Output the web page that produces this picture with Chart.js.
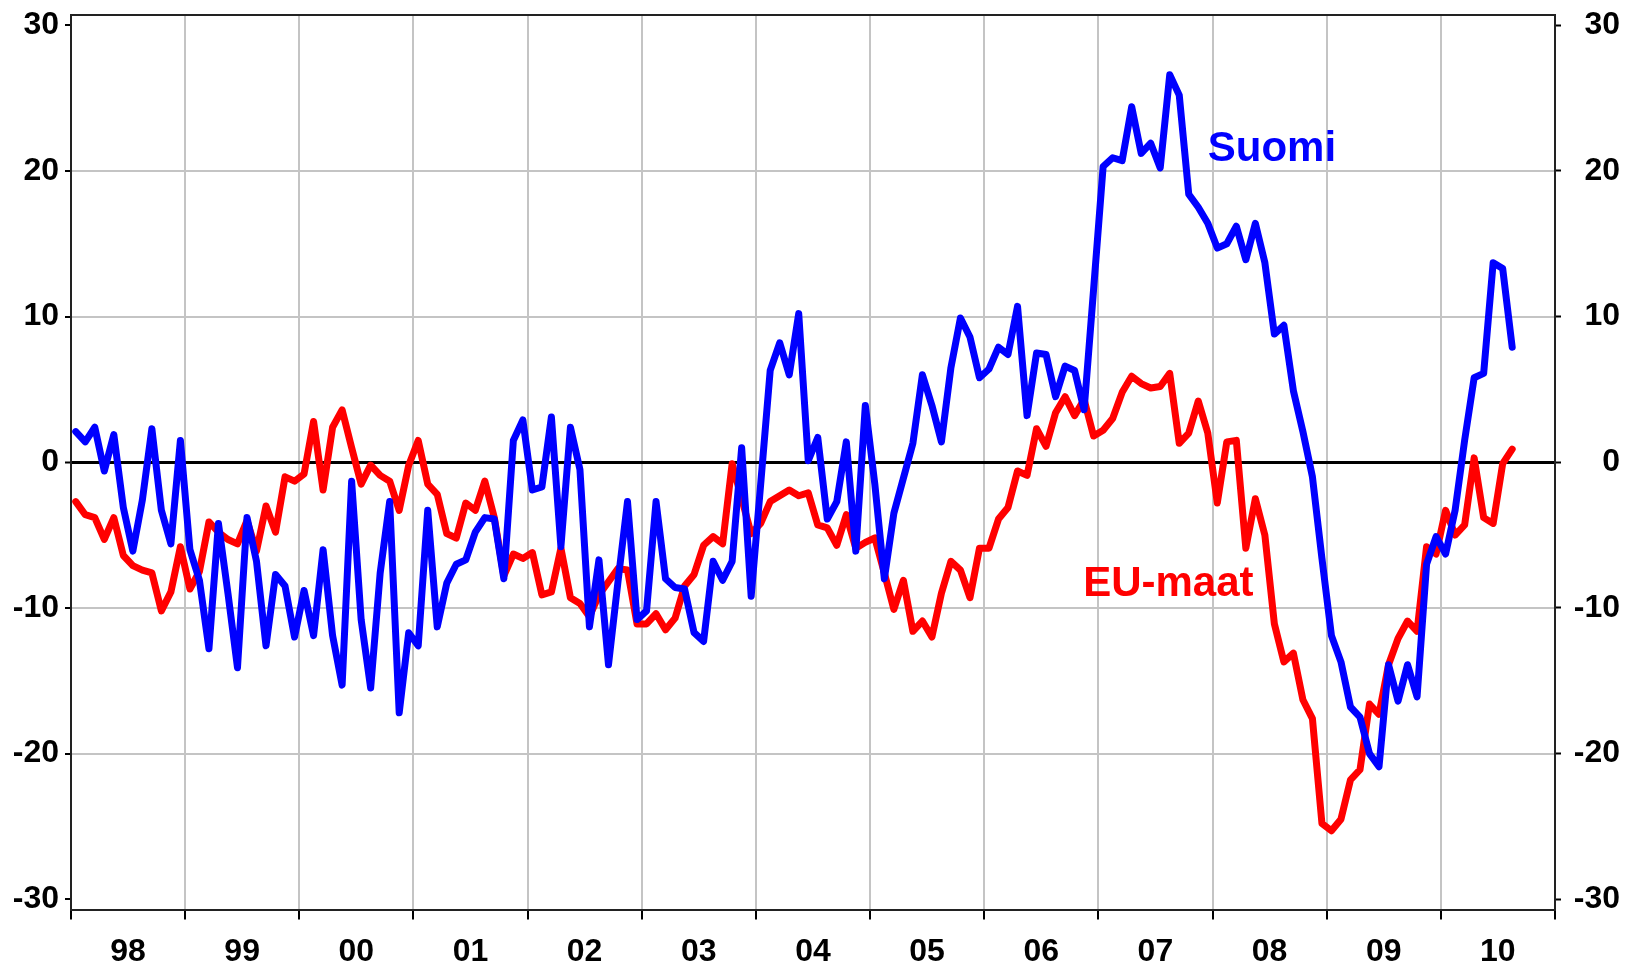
<!DOCTYPE html>
<html>
<head>
<meta charset="utf-8">
<title>Suomi / EU-maat</title>
<script src="https://cdn.jsdelivr.net/npm/chart.js@4.4.0/dist/chart.umd.min.js"></script>
<style>
    html, body { margin: 0; padding: 0; background: #fff; }
    #wrap { width: 1638px; height: 965px; position: relative; }
</style>
</head>
<body>
<div id="wrap"><canvas id="myChart"></canvas></div>
<script>
    // kuukausidata tammikuu 1998 - elokuu 2010
    var yearLabels = ['98', '99', '00', '01', '02', '03', '04', '05', '06', '07', '08', '09', '10'];
    var yTicks = [-30, -20, -10, 0, 10, 20, 30];

    var suomi = [
        2.1, 1.4, 2.4, -0.6, 1.9, -3.1, -6.1, -2.6, 2.3, -3.3, -5.6, 1.5,
        -6.0, -8.1, -12.8, -4.2, -9.0, -14.1, -3.8, -6.8, -12.6, -7.7, -8.5, -12.0,
        -8.8, -11.9, -6.0, -11.9, -15.3, -1.3, -10.8, -15.5, -7.6, -2.7, -17.2, -11.7,
        -12.6, -3.3, -11.3, -8.3, -7.0, -6.7, -4.8, -3.8, -3.9, -8.0, 1.5, 2.9,
        -1.9, -1.7, 3.1, -5.8, 2.4, -0.5, -11.3, -6.7, -13.9, -8.2, -2.7, -10.8,
        -10.2, -2.7, -8.0, -8.6, -8.7, -11.7, -12.3, -6.8, -8.1, -6.8, 1.0, -9.2,
        -1.5, 6.3, 8.2, 6.0, 10.2, 0.1, 1.7, -3.9, -2.7, 1.4, -6.1, 3.9,
        -1.5, -8.0, -3.5, -1.1, 1.3, 6.0, 3.9, 1.4, 6.5, 9.9, 8.6, 5.8,
        6.4, 7.9, 7.4, 10.7, 3.2, 7.5, 7.4, 4.5, 6.6, 6.3, 3.6, 11.9,
        20.3, 20.9, 20.7, 24.4, 21.2, 21.9, 20.2, 26.6, 25.2, 18.4, 17.5, 16.4,
        14.7, 15.0, 16.2, 13.9, 16.4, 13.7, 8.8, 9.4, 4.9, 2.1, -1.0, -6.6,
        -11.9, -13.7, -16.8, -17.5, -20.0, -20.9, -13.9, -16.4, -13.9, -16.1, -7.0, -5.1,
        -6.3, -3.3, 1.5, 5.8, 6.1, 13.7, 13.3, 7.9
    ];

    var euMaat = [
        -2.7, -3.6, -3.8, -5.3, -3.8, -6.4, -7.1, -7.4, -7.6, -10.2, -8.9, -5.8,
        -8.7, -7.5, -4.1, -4.8, -5.3, -5.6, -4.0, -6.1, -3.0, -4.8, -1.0, -1.3,
        -0.8, 2.8, -1.9, 2.4, 3.6, 1.0, -1.5, -0.2, -0.9, -1.3, -3.3, -0.2,
        1.5, -1.5, -2.2, -4.9, -5.2, -2.8, -3.3, -1.3, -3.8, -7.8, -6.3, -6.6,
        -6.2, -9.1, -8.9, -5.9, -9.3, -9.7, -10.6, -9.1, -8.2, -7.3, -7.4, -11.1,
        -11.1, -10.4, -11.5, -10.7, -8.5, -7.7, -5.7, -5.1, -5.6, -0.1, -2.5, -4.9,
        -4.2, -2.7, -2.3, -1.9, -2.3, -2.1, -4.3, -4.5, -5.7, -3.6, -5.9, -5.5,
        -5.2, -7.6, -10.1, -8.1, -11.6, -10.9, -12.0, -9.0, -6.8, -7.4, -9.3, -5.9,
        -5.9, -3.9, -3.1, -0.6, -0.9, 2.3, 1.1, 3.4, 4.5, 3.2, 4.3, 1.8,
        2.2, 3.0, 4.8, 5.9, 5.4, 5.1, 5.2, 6.1, 1.3, 2.0, 4.2, 2.0,
        -2.8, 1.4, 1.5, -5.9, -2.5, -5.0, -11.1, -13.7, -13.1, -16.3, -17.6, -24.8,
        -25.3, -24.5, -21.8, -21.1, -16.6, -17.3, -13.9, -12.1, -10.9, -11.6, -5.8, -6.3,
        -3.3, -5.0, -4.3, 0.3, -3.8, -4.2, -0.1, 0.9
    ];

    var FONT = '"Liberation Sans", Arial, sans-serif';
    var monthsTotal = yearLabels.length * 12;

    // kuukausi keskelle kuukautta
    function toPoints(arr) {
        return arr.map(function (v, i) { return { x: i + 0.5, y: v }; });
    }

    //sarjojen nimet kuvaan
    var seriesNames = {
        id: 'seriesNames',
        afterDatasetsDraw: function (chart) {
            var ctx = chart.ctx;
            var xs = chart.scales.x;
            var ys = chart.scales.y;
            var items = [
                { text: 'Suomi', color: '#0000ff', mx: 119.5, my: 20.7 },
                { text: 'EU-maat', color: '#ff0000', mx: 106.4, my: -9.2 }
            ];
            ctx.save();
            ctx.font = 'bold 42px ' + FONT;
            ctx.textAlign = 'left';
            ctx.textBaseline = 'alphabetic';
            items.forEach(function (it) {
                ctx.fillStyle = it.color;
                ctx.fillText(it.text, xs.getPixelForValue(it.mx), ys.getPixelForValue(it.my));
            });
            ctx.restore();
        }
    };

    function yGridColor(c) {
        var v = c.tick.value;
        if (v === 0) return '#000000';
        if (Math.abs(v) === 30) return 'rgba(0,0,0,0)';
        return '#c4c4c4';
    }

    // ei ylimääräistä tilaa reunimmaisille tick-teksteille
    function noVPad(s) { s.paddingTop = 0; s.paddingBottom = 0; }

    var ctx = document.getElementById('myChart').getContext('2d');
    var myChart = new Chart(ctx, {
        type: 'line',
        data: {
            datasets: [{
                label: 'Suomi',
                data: toPoints(suomi),
                borderColor: '#0000ff',
                backgroundColor: '#0000ff',
                borderWidth: 7,
                pointRadius: 0,
                tension: 0,
                borderJoinStyle: 'round',
                borderCapStyle: 'round'
            }, {
                label: 'EU-maat',
                data: toPoints(euMaat),
                borderColor: '#ff0000',
                backgroundColor: '#ff0000',
                borderWidth: 7,
                pointRadius: 0,
                tension: 0,
                borderJoinStyle: 'round',
                borderCapStyle: 'round'
            }]
        },
        options: {
            responsive: true,
            maintainAspectRatio: false,
            animation: false,
            layout: { padding: { top: 15, right: 18, bottom: 0, left: 0 } },
            plugins: {
                legend: { display: false },
                tooltip: { enabled: false }
            },
            scales: {
                x: {
                    type: 'linear',
                    position: 'bottom',
                    min: 0,
                    max: monthsTotal,
                    afterBuildTicks: function (s) {
                        var t = [];
                        for (var k = 0; k <= yearLabels.length; k++) t.push({ value: k * 12 });
                        s.ticks = t;
                    },
                    afterFit: function (s) { s.height = 55.5; s.paddingLeft = 0; s.paddingRight = 0; },
                    ticks: {
                        autoSkip: false,
                        maxRotation: 0,
                        labelOffset: 57,
                        padding: 13,
                        color: '#000',
                        font: { family: FONT, size: 32, weight: 'bold' },
                        callback: function (v) { return yearLabels[v / 12] || ''; }
                    },
                    grid: {
                        color: function (c) {
                            var v = c.tick.value;
                            return (v === 0 || v === monthsTotal) ? 'rgba(0,0,0,0)' : '#c4c4c4';
                        },
                        lineWidth: 2,
                        tickColor: '#000',
                        tickLength: 10,
                        tickWidth: 2
                    },
                    border: { display: true, color: '#222', width: 2 }
                },
                xTop: {
                    type: 'linear',
                    position: 'top',
                    min: 0,
                    max: monthsTotal,
                    afterFit: function (s) { s.height = 0; s.paddingLeft = 0; s.paddingRight = 0; },
                    ticks: { display: false },
                    grid: { drawOnChartArea: false, drawTicks: false },
                    border: { display: true, color: '#222', width: 2 }
                },
                y: {
                    position: 'left',
                    min: -30.7,
                    max: 30.7,
                    afterBuildTicks: function (s) {
                        s.ticks = yTicks.map(function (v) { return { value: v }; });
                    },
                    afterFit: function (s) { s.width = 71; noVPad(s); },
                    ticks: {
                        padding: 6,
                        color: '#000',
                        font: { family: FONT, size: 32, weight: 'bold' }
                    },
                    grid: {
                        color: yGridColor,
                        lineWidth: function (c) { return c.tick.value === 0 ? 3 : 2; },
                        tickColor: '#000',
                        tickLength: 6,
                        tickWidth: 2
                    },
                    border: { display: true, color: '#222', width: 2 }
                },
                y2: {
                    position: 'right',
                    min: -30.7,
                    max: 30.7,
                    afterBuildTicks: function (s) {
                        s.ticks = yTicks.map(function (v) { return { value: v }; });
                    },
                    afterFit: function (s) { s.width = 65; noVPad(s); },
                    ticks: {
                        crossAlign: 'far',
                        color: '#000',
                        font: { family: FONT, size: 32, weight: 'bold' }
                    },
                    grid: {
                        drawOnChartArea: false,
                        tickColor: '#000',
                        tickLength: 6,
                        tickWidth: 2
                    },
                    border: { display: true, color: '#222', width: 2 }
                }
            }
        },
        plugins: [seriesNames]
    });
</script>
</body>
</html>
